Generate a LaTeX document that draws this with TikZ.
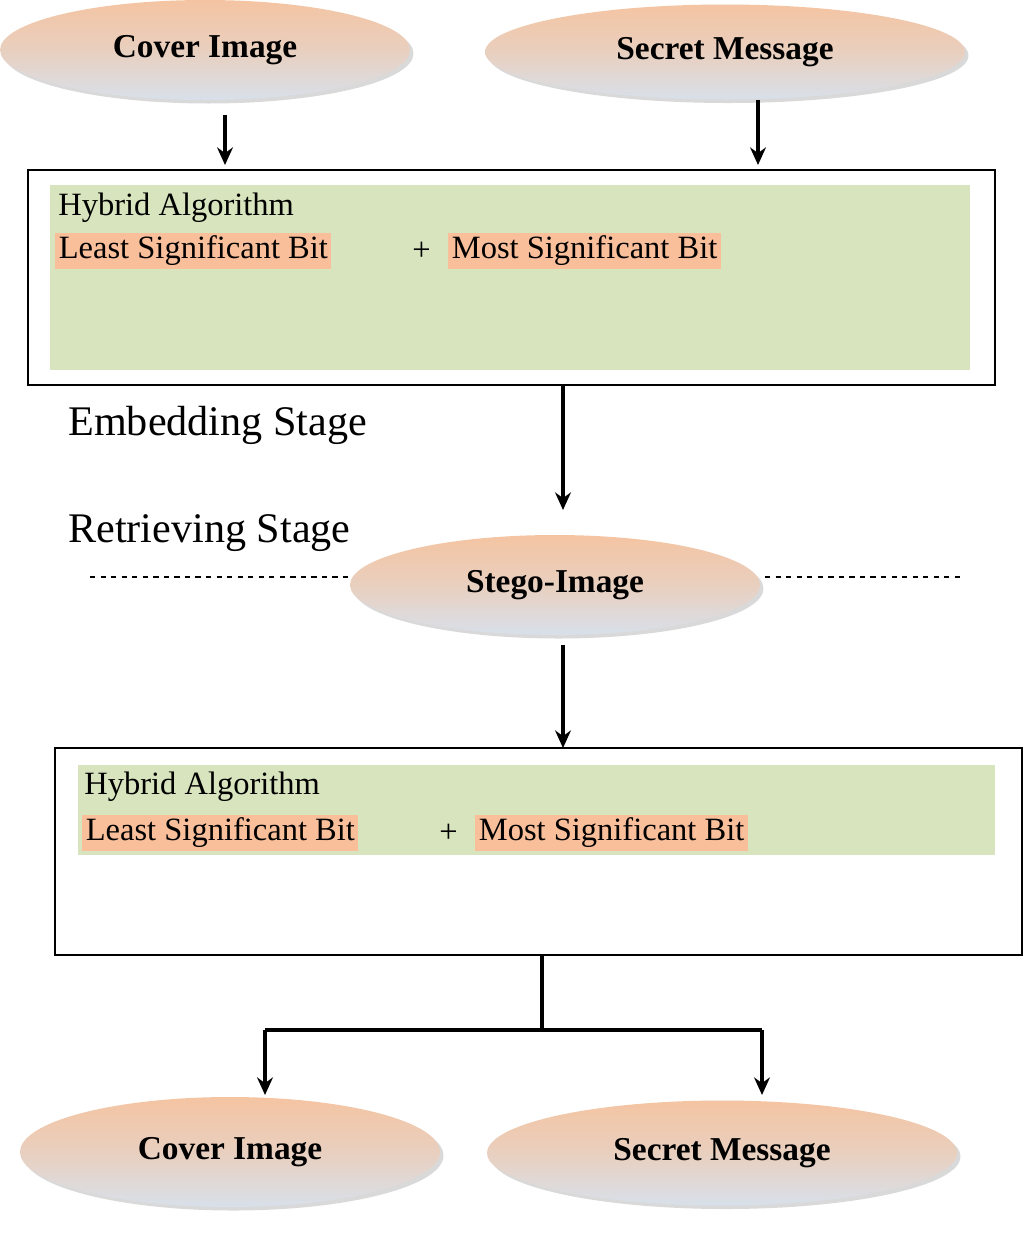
\documentclass[tikz,border=0pt]{standalone}
\usepackage{fontspec}
\setmainfont{Liberation Serif}
\usetikzlibrary{positioning, arrows.meta, shapes.geometric, shadows}
\definecolor{peach}{HTML}{F4C4A2}
\definecolor{mist}{HTML}{D8E0EA}
\definecolor{algogreen}{HTML}{D7E4BD}
\definecolor{bitorange}{HTML}{F9BF9B}

\begin{document}
\begin{tikzpicture}[x=0.02cm, y=-0.02cm,
  oval/.style={ellipse, draw=none, top color=peach, bottom color=mist, middle color=peach!60!mist,
    drop shadow={shadow xshift=2pt, shadow yshift=-2pt, opacity=0.3},
    font=\fontsize{19}{23}\selectfont\bfseries},
  bit/.style={fill=bitorange, inner sep=2pt, anchor=west, font=\fontsize{18.5}{22}\selectfont},
  plain/.style={inner sep=0pt, anchor=west, font=\fontsize{18.5}{22}\selectfont},
  stage/.style={inner sep=0pt, anchor=west, font=\fontsize{24}{28}\selectfont},
  flow/.style={-{Stealth[length=10pt, width=9pt]}, line width=2.2pt},
  frame/.style={draw, line width=1.4pt, fill=white}]
\useasboundingbox (0,0) rectangle (1030,1247);

% --- top inputs ---
\node[oval, minimum width=8.2cm, minimum height=2cm] (cover) at (205,50) {Cover Image};
\node[oval, minimum width=9.6cm, minimum height=1.9cm] (secret) at (725,52) {Secret Message};
\coordinate (c1) at (225,115);
\coordinate (c2) at (225,165);
\coordinate (s1) at (758,100);
\coordinate (s2) at (758,165);
\draw[flow] (c1) -- (c2);
\draw[flow] (s1) -- (s2);

% --- embedding algorithm ---
\draw[frame] (28,170) rectangle (995,385);
\fill[algogreen] (50,185) rectangle (970,370);
\node[plain] (hyb1) at (58,208) {Hybrid Algorithm};
\node[bit] (lsb1) at (55,251) {Least Significant Bit};
\node[plain] (plus1) at (412,251) {+};
\node[bit] (msb1) at (448,251) {Most Significant Bit};

\node[stage] (embed) at (68,425) {Embedding Stage};
\node[stage] (retr) at (68,533) {Retrieving Stage};
\coordinate (e1) at (563,385);
\coordinate (e2) at (563,510);
\draw[flow] (e1) -- (e2);

% --- stego image ---
\draw[dashed, line width=1pt] (90,577) -- (355,577);
\draw[dashed, line width=1pt] (765,577) -- (960,577);
\node[oval, minimum width=8.2cm, minimum height=2cm] (stego) at (555,585) {Stego-Image};
\coordinate (g1) at (563,645);
\coordinate (g2) at (563,748);
\draw[flow] (g1) -- (g2);

% --- retrieving algorithm ---
\draw[frame] (55,748) rectangle (1022,955);
\fill[algogreen] (78,765) rectangle (995,855);
\node[plain] (hyb2) at (84,787) {Hybrid Algorithm};
\node[bit] (lsb2) at (82,833) {Least Significant Bit};
\node[plain] (plus2) at (439,833) {+};
\node[bit] (msb2) at (475,833) {Most Significant Bit};

% --- outputs ---
\coordinate (r0) at (542,955);
\coordinate (r1) at (542,1030);
\coordinate (rl) at (265,1030);
\coordinate (rr) at (762,1030);
\coordinate (rl2) at (265,1095);
\coordinate (rr2) at (762,1095);
\draw[line width=2.2pt] (r0) -- (r1);
\draw[line width=2.2pt] (rl) -- (rr);
\draw[flow] (rl) -- (rl2);
\draw[flow] (rr) -- (rr2);
\node[oval, minimum width=8.4cm, minimum height=2.2cm] (cover2) at (230,1152) {Cover Image};
\node[oval, minimum width=9.4cm, minimum height=2.1cm] (secret2) at (722,1153) {Secret Message};
\end{tikzpicture}
\end{document}
